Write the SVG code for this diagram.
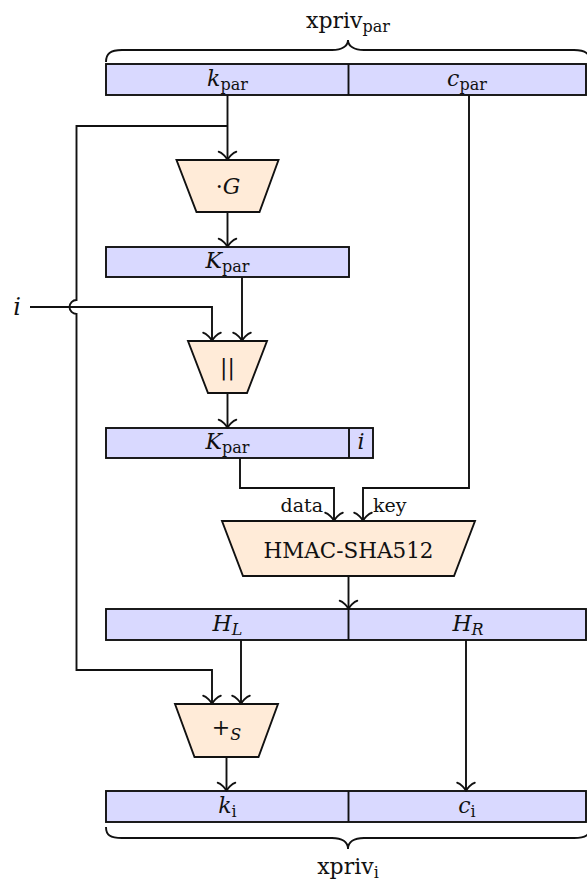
<svg xmlns="http://www.w3.org/2000/svg" width="587" height="881" viewBox="0 0 587 881">
  <style>
    text { font-family: "DejaVu Serif", "Liberation Serif", serif; fill: #111; }
    .t { font-size: 22px; text-anchor: middle; }
    .it { font-style: italic; }
    .sub { font-size: 16px; font-style: normal; }
    .sub.it { font-style: italic; }
    .lbl { font-size: 19px; }
    .bar { fill: #d9d9ff; stroke: #111; stroke-width: 1.9; }
    .div { stroke: #111; stroke-width: 1.9; }
    .op { fill: #ffebd8; stroke: #111; stroke-width: 1.9; stroke-linejoin: miter; }
    .wire { fill: none; stroke: #111; stroke-width: 1.9; }
    .arr { marker-end: url(#to); }
    .brace { fill: none; stroke: #111; stroke-width: 1.9; }
  </style>
  <defs>
    <marker id="to" viewBox="-10 -10 20 20" markerUnits="userSpaceOnUse" markerWidth="20" markerHeight="20" refX="1.65" refY="0" orient="auto" overflow="visible">
      <path d="M-6.6,8.8 C-6.05,5.5 0,0.55 1.65,0 C0,-0.55 -6.05,-5.5 -6.6,-8.8" fill="none" stroke="#111" stroke-width="1.9" stroke-linecap="round" stroke-linejoin="round"/>
    </marker>
  </defs>

  <!-- parent extended private key -->
  <g id="xpriv-par">
    <path class="brace" d="M106,62 C106,54 110,50 122,50 L332,50 C342,50 348,46 348,40 C348,46 354,50 364,50 L574,50 C586,50 590,54 590,62"/>
    <text class="t" x="348" y="28">xpriv<tspan class="sub" dy="4">par</tspan></text>
    <rect class="bar" x="106" y="64" width="480" height="31"/>
    <line class="div" x1="348.5" y1="64" x2="348.5" y2="95"/>
    <text class="t it" x="227.5" y="86">k<tspan class="sub" dy="4">par</tspan></text>
    <text class="t it" x="467" y="86">c<tspan class="sub" dy="4">par</tspan></text>
  </g>

  <!-- point multiplication -->
  <g id="mul-G">
    <polygon class="op" points="176.5,160 278.5,160 259.5,212 196.5,212"/>
    <text class="t" x="228" y="194">·<tspan class="it">G</tspan></text>
  </g>

  <!-- parent public key -->
  <g id="K-par">
    <rect class="bar" x="106" y="247" width="243" height="30"/>
    <text class="t it" x="227.5" y="268">K<tspan class="sub" dy="4">par</tspan></text>
  </g>

  <!-- index input -->
  <g id="index">
    <text class="t it" x="17" y="315" style="font-size:24px">i</text>
  </g>

  <!-- concatenation -->
  <g id="concat">
    <polygon class="op" points="188,341 267,341 247,393 208,393"/>
    <text class="t" x="227.5" y="375">||</text>
  </g>

  <!-- concatenated data -->
  <g id="K-par-i">
    <rect class="bar" x="106" y="428" width="267" height="30"/>
    <line class="div" x1="349" y1="428" x2="349" y2="458"/>
    <text class="t it" x="227.5" y="449">K<tspan class="sub" dy="4">par</tspan></text>
    <text class="t it" x="361" y="449">i</text>
  </g>

  <!-- HMAC -->
  <g id="hmac">
    <polygon class="op" points="222,521 475,521 454,576 243,576"/>
    <text class="t" x="348.5" y="558" style="font-size:21.5px">HMAC-SHA512</text>
  </g>

  <!-- hash halves -->
  <g id="H">
    <rect class="bar" x="106" y="609" width="480" height="31"/>
    <line class="div" x1="348.5" y1="609" x2="348.5" y2="640"/>
    <text class="t it" x="227.5" y="631">H<tspan class="sub it" dy="4">L</tspan></text>
    <text class="t it" x="468" y="631">H<tspan class="sub it" dy="4">R</tspan></text>
  </g>

  <!-- scalar addition -->
  <g id="add-s">
    <polygon class="op" points="175,704 278,704 258.5,757 194.5,757"/>
    <text class="t" x="226.5" y="735">+<tspan class="sub it" dy="5">S</tspan></text>
  </g>

  <!-- child extended private key -->
  <g id="xpriv-i">
    <rect class="bar" x="106" y="791" width="480" height="31"/>
    <line class="div" x1="348.5" y1="791" x2="348.5" y2="822"/>
    <text class="t it" x="227.5" y="813">k<tspan class="sub" dy="4">i</tspan></text>
    <text class="t it" x="467" y="813">c<tspan class="sub" dy="4">i</tspan></text>
    <path class="brace" d="M106,827 C106,835 110,838 122,838 L332,838 C342,838 348,842 348,849 C348,842 354,838 364,838 L574,838 C586,838 590,835 590,827"/>
    <text class="t" x="348" y="874">xpriv<tspan class="sub" dy="4">i</tspan></text>
  </g>

  <!-- connectors -->
  <g id="connectors">
    <path class="wire arr" d="M227.5,95 V160"/>
    <path class="wire arr" d="M227.5,126 H76.5 V300 A7,7 0 0 0 76.5,314 V670 H212 V704"/>
    <path class="wire arr" d="M227.5,212 V247"/>
    <path class="wire arr" d="M30,307 H212 V341"/>
    <path class="wire arr" d="M242,277 V341"/>
    <path class="wire arr" d="M227.5,393 V428"/>
    <path class="wire arr" d="M240,458 V488 H334 V521"/>
    <path class="wire arr" d="M469,95 V488 H363 V521"/>
    <text class="lbl" x="323" y="512" text-anchor="end">data</text>
    <text class="lbl" x="373" y="512">key</text>
    <path class="wire arr" d="M348.5,576 V609"/>
    <path class="wire arr" d="M241,640 V704"/>
    <path class="wire arr" d="M466,640 V791"/>
    <path class="wire arr" d="M226.5,757 V791"/>
  </g>
</svg>
